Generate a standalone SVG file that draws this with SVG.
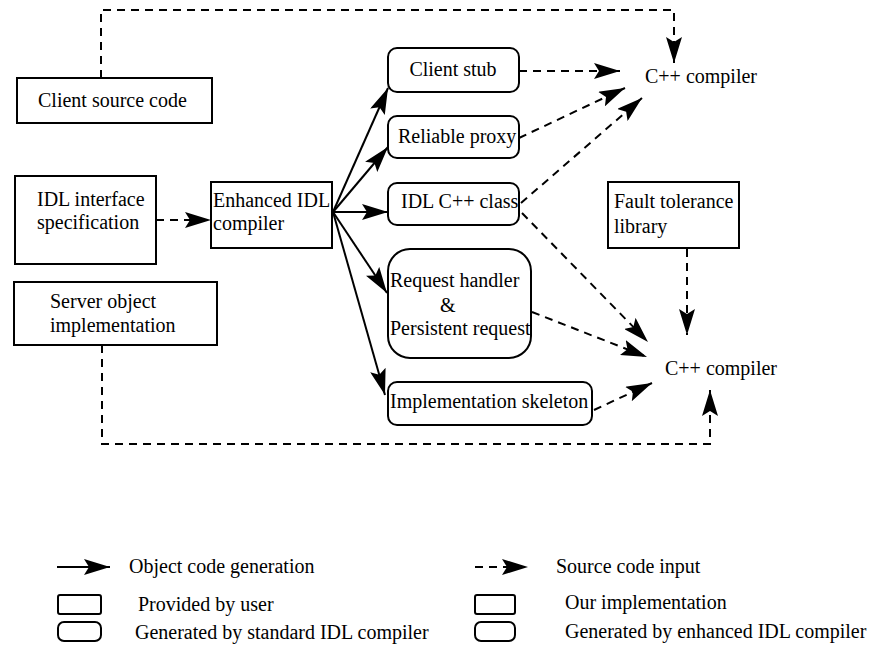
<svg xmlns="http://www.w3.org/2000/svg" width="870" height="655" viewBox="0 0 870 655">
<style>
text{font-family:"Liberation Serif","Times New Roman",serif;font-size:20px;fill:#000}
.box{fill:#fff;stroke:#000;stroke-width:2}
.solid{fill:none;stroke:#000;stroke-width:2;marker-end:url(#ah)}
.dash{fill:none;stroke:#000;stroke-width:2;stroke-dasharray:8 6}
.dasha{fill:none;stroke:#000;stroke-width:2;stroke-dasharray:8 6;marker-end:url(#ah)}
</style>
<defs>
<marker id="ah" markerUnits="userSpaceOnUse" viewBox="0 0 26 16" refX="26" refY="8" markerWidth="26" markerHeight="16" orient="auto">
<path d="M0,0 L26,8 L0,16 L5,8 Z" fill="#000"/>
</marker>
</defs>
<rect width="870" height="655" fill="#fff"/>
<g id="connectors">
<path class="dasha" d="M101,78 V10 H674 V63"/>
<path class="dasha" d="M102,345 V444 H710 V390"/>
<path class="dasha" d="M156,220 H211"/>
<path class="solid" d="M333,212 L388,88"/>
<path class="solid" d="M333,212 L388,147"/>
<path class="solid" d="M333,212 L388,212"/>
<path class="solid" d="M333,212 L387,293"/>
<path class="solid" d="M333,212 L385,395"/>
<path class="dasha" d="M519,71 L620,71"/>
<path class="dasha" d="M519,138 L625,88"/>
<path class="dasha" d="M521,203 L642,98"/>
<path class="dasha" d="M522,213 L648,342"/>
<path class="dasha" d="M532,312 L647,357"/>
<path class="dasha" d="M594,410 L652,383"/>
<path class="dasha" d="M687,249 V335"/>
</g>
<g id="client-source"><rect class="box" x="17" y="78" width="195" height="45"/><text x="38" y="107">Client source code</text></g>
<g id="idl-spec"><rect class="box" x="15" y="176" width="141" height="88"/><text x="37" y="206">IDL interface</text><text x="37" y="229">specification</text></g>
<g id="enhanced-idl"><rect class="box" x="211" y="182" width="121" height="66"/><text x="213" y="207">Enhanced IDL</text><text x="213" y="230">compiler</text></g>
<g id="server-impl"><rect class="box" x="14" y="282" width="203" height="63"/><text x="50" y="308">Server object</text><text x="50" y="332">implementation</text></g>
<g id="client-stub"><rect class="box" x="388" y="48" width="131" height="44" rx="9"/><text x="453" y="76" text-anchor="middle">Client stub</text></g>
<g id="reliable-proxy"><rect class="box" x="388" y="116" width="131" height="42" rx="9"/><text x="398" y="143">Reliable proxy</text></g>
<g id="idl-cpp-class"><rect class="box" x="388" y="183" width="131" height="42" rx="9"/><text x="401" y="208">IDL C++ class</text></g>
<g id="request-handler"><rect class="box" x="388" y="249" width="143" height="109" rx="22"/><text x="390" y="287">Request handler</text><text x="440" y="312">&amp;</text><text x="390" y="335">Persistent request</text></g>
<g id="impl-skeleton"><rect class="box" x="388" y="382" width="204" height="43" rx="9"/><text x="390" y="408">Implementation skeleton</text></g>
<g id="fault-lib"><rect class="box" x="608" y="182" width="131" height="66"/><text x="614" y="208">Fault tolerance</text><text x="614" y="233">library</text></g>
<g id="cpp-compiler-top"><text x="645" y="83">C++ compiler</text></g>
<g id="cpp-compiler-bottom"><text x="665" y="375">C++ compiler</text></g>
<g id="legend">
<path class="solid" d="M57,567 H110"/>
<text x="129" y="573">Object code generation</text>
<rect class="box" x="58" y="595" width="43" height="19" rx="2"/>
<text x="138" y="611">Provided by user</text>
<rect class="box" x="58" y="622" width="43" height="19" rx="6"/>
<text x="135" y="639">Generated by standard IDL compiler</text>
<path class="dasha" d="M475,567 H528"/>
<text x="556" y="573">Source code input</text>
<rect class="box" x="475" y="595" width="40" height="19" rx="2"/>
<text x="565" y="609">Our implementation</text>
<rect class="box" x="475" y="622" width="40" height="19" rx="6"/>
<text x="565" y="638">Generated by enhanced IDL compiler</text>
</g>
</svg>
